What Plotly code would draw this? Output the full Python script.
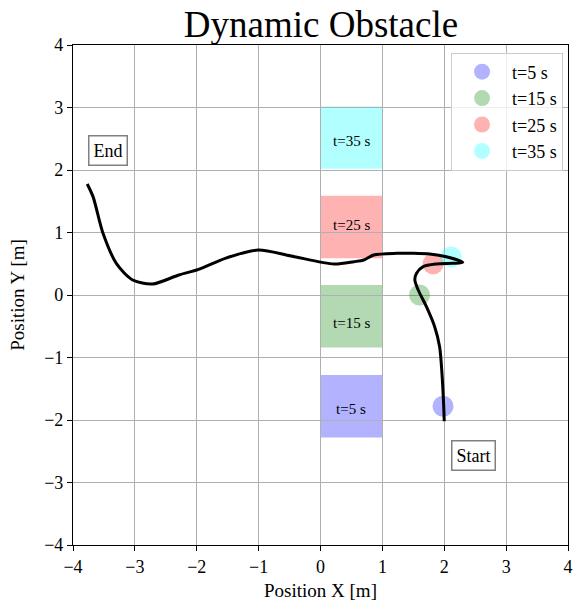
import plotly.graph_objects as go

# Robot path (start -> end)
path_x = [2.00, 1.99, 1.963, 1.925, 1.845, 1.712, 1.579, 1.525, 1.552, 1.659, 1.872, 2.139, 2.299,
          2.032, 1.765, 1.499, 1.232, 0.86, 0.70, 0.54, 0.22, -0.475, -1.008, -1.54, -1.97, -2.29,
          -2.715, -3.035, -3.30, -3.515, -3.675, -3.77]
path_y = [-2.02, -1.75, -1.253, -0.827, -0.507, -0.187, 0.08, 0.24, 0.347, 0.453, 0.496, 0.507, 0.523,
          0.613, 0.656, 0.667, 0.667, 0.64, 0.56, 0.533, 0.496, 0.624, 0.72, 0.587, 0.41, 0.32,
          0.176, 0.24, 0.507, 0.987, 1.57, 1.776]

# Dynamic obstacle markers
dyn_labels = ["t=5 s", "t=15 s", "t=25 s", "t=35 s"]
dyn_x = [1.98, 1.60, 1.82, 2.11]
dyn_y = [-1.78, 0.00, 0.50, 0.61]
dyn_colors = ["rgba(0,0,255,0.3)", "rgba(0,128,0,0.3)", "rgba(255,0,0,0.3)", "rgba(0,255,255,0.3)"]

# Obstacle rectangles
obs_x0 = [0, 0, 0, 0]
obs_x1 = [1, 1, 1, 1]
obs_y0 = [-2.28, -0.84, 0.59, 2.02]
obs_y1 = [-1.28, 0.16, 1.59, 3.02]
obs_label_y = [-1.82, -0.45, 1.12, 2.46]

# Ticks
ticks = [-4, -3, -2, -1, 0, 1, 2, 3, 4]

FONT = "Liberation Serif"

fig = go.Figure()

for i in range(4):
    fig.add_shape(type="rect", xref="x", yref="y",
                  x0=obs_x0[i], x1=obs_x1[i], y0=obs_y0[i], y1=obs_y1[i],
                  fillcolor=dyn_colors[i], line=dict(width=0), layer="below")
    fig.add_annotation(x=(obs_x0[i] + obs_x1[i]) / 2, y=obs_label_y[i], text=dyn_labels[i],
                       showarrow=False, font=dict(family=FONT, size=15, color="black"))

for i in range(4):
    fig.add_trace(go.Scatter(x=[dyn_x[i]], y=[dyn_y[i]], mode="markers", name=dyn_labels[i],
                             marker=dict(size=21, color=dyn_colors[i], line=dict(width=0))))

fig.add_trace(go.Scatter(x=path_x, y=path_y, mode="lines", showlegend=False,
                         line=dict(color="black", width=3, shape="spline", smoothing=0.8)))

fig.add_annotation(x=-3.44, y=2.32, text="End", showarrow=False,
                   font=dict(family=FONT, size=18, color="black"),
                   bordercolor="gray", borderwidth=1.5, borderpad=4, bgcolor="white")
fig.add_annotation(x=2.48, y=-2.56, text="Start", showarrow=False,
                   font=dict(family=FONT, size=18, color="black"),
                   bordercolor="gray", borderwidth=1.5, borderpad=4, bgcolor="white")

axis_common = dict(range=[-4, 4], tickvals=ticks, showgrid=True, gridcolor="#b0b0b0", gridwidth=1,
                   zeroline=False, showline=True, linecolor="black", linewidth=1.2, mirror=True,
                   ticks="outside", ticklen=5, tickcolor="black", ticklabeloverflow="allow",
                   automargin=False,
                   tickfont=dict(family=FONT, size=18, color="black"))

fig.update_xaxes(**axis_common, title=dict(text="Position X [m]", font=dict(family=FONT, size=19, color="black"), standoff=7))
fig.update_yaxes(**axis_common, title=dict(text="Position Y [m]", font=dict(family=FONT, size=19, color="black"), standoff=14))

fig.update_layout(
    width=575, height=603,
    margin=dict(l=73, r=7, t=45, b=58),
    plot_bgcolor="white", paper_bgcolor="white",
    title=dict(text="Dynamic Obstacle", x=(73 + 248) / 575, xanchor="center", y=0.96, yanchor="middle",
               font=dict(family=FONT, size=37, color="black")),
    legend=dict(x=0.99, y=0.985, xanchor="right", yanchor="top", bgcolor="rgba(255,255,255,0.8)",
                bordercolor="#cccccc", borderwidth=1, font=dict(family=FONT, size=18, color="black"),
                itemsizing="trace", itemwidth=50, tracegroupgap=2),
    showlegend=True,
)

fig.write_html("out.html", config={"displayModeBar": False},
               post_script="document.body.style.margin='0px';")
